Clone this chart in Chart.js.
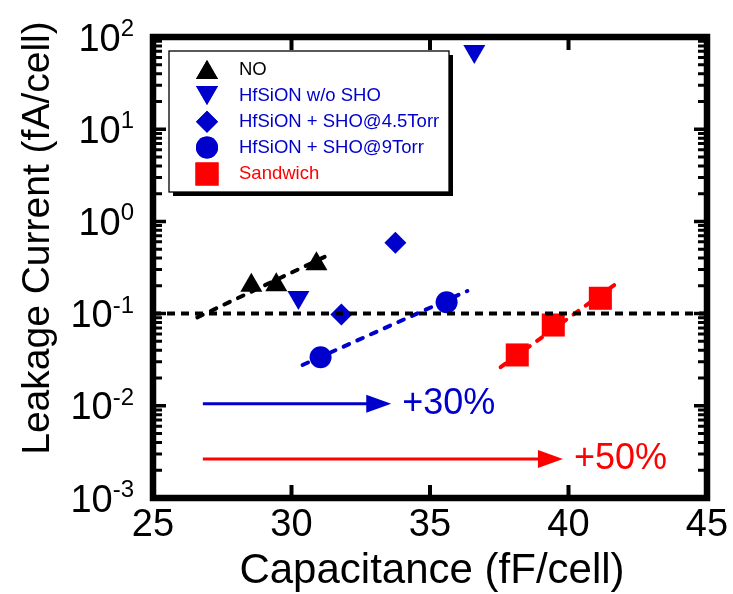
<!DOCTYPE html>
<html>
<head>
<meta charset="utf-8">
<script src="https://cdn.jsdelivr.net/npm/chart.js@4/dist/chart.umd.min.js"></script>
<style>
  html, body { margin: 0; padding: 0; background: #fff; }
  #chart { display: block; }
</style>
</head>
<body>
<canvas id="chart" width="733" height="594"></canvas>
<script>
// Measured points (Capacitance fF/cell, Leakage fA/cell)
const noX = [28.55, 29.45, 30.9];
const noY = [0.202, 0.205, 0.346];
const woShoX = [30.25, 36.6];
const woShoY = [0.150, 70];
const sho45X = [31.8, 33.75];
const sho45Y = [0.098, 0.587];
const sho9X = [31.05, 35.6];
const sho9Y = [0.0336, 0.1325];
const sandX = [38.15, 39.45, 41.15];
const sandY = [0.0356, 0.0752, 0.1466];

// Dashed trend lines
const noFitX = [26.6, 31.25];
const noFitY = [0.091, 0.42];
const sho9FitX = [30.4, 36.35];
const sho9FitY = [0.0277, 0.176];
const sandFitX = [37.55, 41.65];
const sandFitY = [0.0262, 0.204];
const specX = [25, 45];
const specY = [0.1, 0.1];

// Arrows
const arrowStartX = [26.8, 26.8];
const arrowEndX = [33.6, 39.8];
const arrowY = [0.0105, 0.00265];
const arrowLabels = ['+30%', '+50%'];

// Axes
const xTicks = [25, 30, 35, 40, 45];
const yDecades = [-3, -2, -1, 0, 1, 2];
const legendLabels = ['NO', 'HfSiON w/o SHO', 'HfSiON + SHO@4.5Torr', 'HfSiON + SHO@9Torr', 'Sandwich'];

const BLUE = '#0000CC';
const RED = '#FF0000';
const FONT = '"Liberation Sans", Arial, Helvetica, sans-serif';

function pts(xs, ys) {
    return xs.map((x, i) => ({ x: x, y: ys[i] }));
}

function markerSet(label, xs, ys, color, style, radius, rotation) {
    return {
        label: label,
        data: pts(xs, ys),
        showLine: false,
        pointStyle: style,
        pointRadius: radius,
        pointRotation: rotation || 0,
        backgroundColor: color,
        borderColor: color,
        borderWidth: 0,
        order: 1
    };
}

function lineSet(xs, ys, color, width, dash, cap, order) {
    return {
        data: pts(xs, ys),
        showLine: true,
        pointRadius: 0,
        borderColor: color,
        borderWidth: width,
        borderDash: dash,
        borderCapStyle: cap,
        fill: false,
        order: order
    };
}

const markerStyles = [
    { style: 'triangle', radius: 12.7, rotation: 0, color: '#000' },
    { style: 'triangle', radius: 12.7, rotation: 180, color: BLUE },
    { style: 'rectRot', radius: 11, rotation: 0, color: BLUE },
    { style: 'circle', radius: 11, rotation: 0, color: BLUE },
    { style: 'rect', radius: 16.3, rotation: 0, color: RED }
];

// Frame, ticks, labels, arrows and legend
const decorPlugin = {
    id: 'decor',
    afterDatasetsDraw(chart) {
        const c = chart.ctx;
        const xs = chart.scales.x, ys = chart.scales.y;
        const a = chart.chartArea;
        c.save();

        // arrow heads and labels
        arrowEndX.forEach((ex, i) => {
            const col = i === 0 ? BLUE : RED;
            const tx = xs.getPixelForValue(ex);
            const ty = ys.getPixelForValue(arrowY[i]);
            c.fillStyle = col;
            c.beginPath();
            c.moveTo(tx, ty);
            c.lineTo(tx - 25, ty - 9);
            c.lineTo(tx - 25, ty + 9);
            c.closePath();
            c.fill();
            c.font = '36px ' + FONT;
            c.textAlign = 'left';
            c.textBaseline = 'middle';
            c.fillText(arrowLabels[i], tx + 11, ty);
        });

        // ticks
        c.strokeStyle = '#000';
        c.lineCap = 'butt';
        c.lineWidth = 4;
        xTicks.forEach(v => {
            const px = xs.getPixelForValue(v);
            c.beginPath();
            c.moveTo(px, a.bottom); c.lineTo(px, a.bottom - 13);
            c.moveTo(px, a.top); c.lineTo(px, a.top + 13);
            c.stroke();
        });
        yDecades.forEach(e => {
            const py = ys.getPixelForValue(Math.pow(10, e));
            c.lineWidth = 3.5;
            c.beginPath();
            c.moveTo(a.left, py); c.lineTo(a.left + 13, py);
            c.moveTo(a.right, py); c.lineTo(a.right - 13, py);
            c.stroke();
            if (e < 2) {
                c.lineWidth = 3;
                for (let k = 2; k <= 9; k++) {
                    const pm = ys.getPixelForValue(k * Math.pow(10, e));
                    c.beginPath();
                    c.moveTo(a.left, pm); c.lineTo(a.left + 9, pm);
                    c.moveTo(a.right, pm); c.lineTo(a.right - 9, pm);
                    c.stroke();
                }
            }
        });

        // frame
        c.lineWidth = 6.5;
        c.lineJoin = 'miter';
        c.strokeRect(a.left, a.top, a.right - a.left, a.bottom - a.top);

        // x tick labels
        c.fillStyle = '#000';
        c.font = '38px ' + FONT;
        c.textAlign = 'center';
        c.textBaseline = 'alphabetic';
        xTicks.forEach(v => {
            c.fillText(String(v), xs.getPixelForValue(v), 536);
        });

        // y tick labels 10^n
        yDecades.forEach(e => {
            const py = ys.getPixelForValue(Math.pow(10, e));
            const sup = String(e);
            c.font = '24px ' + FONT;
            const sw = c.measureText(sup).width;
            c.font = '38px ' + FONT;
            const bw = c.measureText('10').width;
            const right = 134;
            c.textAlign = 'left';
            c.fillText('10', right - sw - bw, py + 13.5);
            c.font = '24px ' + FONT;
            c.fillText(sup, right - sw, py - 1);
        });

        // axis titles
        c.textAlign = 'center';
        c.font = '42px ' + FONT;
        c.fillText('Capacitance (fF/cell)', 432, 583);
        c.save();
        c.font = '39px ' + FONT;
        c.translate(49, 238);
        c.rotate(-Math.PI / 2);
        c.fillText('Leakage Current (fA/cell)', 0, 0);
        c.restore();

        // legend box with shadow
        const bx = 169, by = 51, bw2 = 280, bh = 141;
        c.fillStyle = '#000';
        c.fillRect(bx + 4, by + 4, bw2, bh);
        c.fillStyle = '#fff';
        c.fillRect(bx, by, bw2, bh);
        c.lineWidth = 1.3;
        c.strokeStyle = '#000';
        c.strokeRect(bx, by, bw2, bh);

        const rowY = [72.7, 92.4, 121.7, 147.5, 174];
        const textY = [70, 96, 122, 148, 174];
        const textCol = ['#000', BLUE, BLUE, BLUE, RED];
        c.font = '18.5px ' + FONT;
        c.textAlign = 'left';
        c.textBaseline = 'middle';
        markerStyles.forEach((m, i) => {
            c.fillStyle = m.color;
            c.strokeStyle = m.color;
            Chart.helpers.drawPoint(c, {
                pointStyle: m.style,
                radius: m.radius,
                rotation: m.rotation,
                borderWidth: 0
            }, 207, rowY[i]);
            c.fill();
            c.fillStyle = textCol[i];
            c.fillText(legendLabels[i], 239, textY[i]);
        });

        c.restore();
    }
};

const datasets = [
    lineSet(specX, specY, '#000', 4, [8, 6], 'butt', 0),
    lineSet(noFitX, noFitY, '#000', 4, [6, 9], 'round', 2),
    lineSet(sho9FitX, sho9FitY, BLUE, 4, [6, 9], 'round', 2),
    lineSet(sandFitX, sandFitY, RED, 4, [6, 9], 'round', 2),
    lineSet([arrowStartX[0], arrowEndX[0] - 0.6], [arrowY[0], arrowY[0]], BLUE, 3, [], 'butt', 2),
    lineSet([arrowStartX[1], arrowEndX[1] - 0.6], [arrowY[1], arrowY[1]], RED, 3, [], 'butt', 2),
    markerSet(legendLabels[0], noX, noY, '#000', 'triangle', 12.7, 0),
    markerSet(legendLabels[1], woShoX, woShoY, BLUE, 'triangle', 12.7, 180),
    markerSet(legendLabels[2], sho45X, sho45Y, BLUE, 'rectRot', 11, 0),
    markerSet(legendLabels[3], sho9X, sho9Y, BLUE, 'circle', 11, 0),
    markerSet(legendLabels[4], sandX, sandY, RED, 'rect', 16.3, 0)
];

new Chart(document.getElementById('chart'), {
    type: 'scatter',
    data: { datasets: datasets },
    options: {
        responsive: false,
        animation: false,
        devicePixelRatio: 1,
        layout: { padding: { left: 153, right: 26, top: 37, bottom: 96 } },
        scales: {
            x: { type: 'linear', min: 25, max: 45, display: false },
            y: { type: 'logarithmic', min: 0.001, max: 100, display: false }
        },
        plugins: {
            legend: { display: false },
            tooltip: { enabled: false }
        }
    },
    plugins: [decorPlugin]
});
</script>
</body>
</html>
